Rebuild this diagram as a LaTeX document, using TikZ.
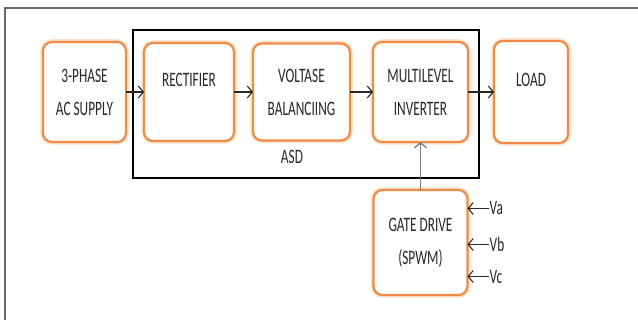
\documentclass[tikz,border=0pt]{standalone}
\usepackage{fontspec}
\usepackage{tikz}
\usetikzlibrary{arrows.meta, positioning, calc}
\newfontfamily\diagfont[FakeStretch=0.65]{Carlito}
\definecolor{myorange}{RGB}{238,140,70}
\definecolor{myglow}{RGB}{252,226,204}
\definecolor{mytext}{RGB}{40,40,40}
\definecolor{myframe}{RGB}{105,105,105}
\definecolor{mygray}{RGB}{125,125,125}
\tikzset{
  block/.style={rectangle, draw=myorange, fill=white, align=center,
    rounded corners=9pt, line width=2.2pt, text=mytext, inner sep=0pt, outer sep=0pt,
    font=\diagfont\fontsize{20.5}{33}\selectfont,
    preaction={draw=myglow, line width=5.5pt}},
  vlabel/.style={anchor=west, inner sep=1pt, text=mytext,
    font=\diagfont\fontsize{20.5}{22}\selectfont},
  arrow/.style={-{Straight Barb[length=5pt,width=12pt]}, line width=1.1pt, color=mytext},
  grayarrow/.style={-{Straight Barb[length=5pt,width=12pt]}, line width=1.3pt, color=mygray},
  asdbox/.style={draw=black, line width=2.8pt},
  frameline/.style={draw=myframe, line width=1.5pt}
}

\begin{document}
\begin{tikzpicture}[x=1pt, y=1pt]
  \useasboundingbox (0,0) rectangle (638,-320);
  \draw[frameline] (5,-320) -- (5,-8) -- (638,-8);

  \node[block, minimum width=83pt, minimum height=100pt] (supply) at (84.5,-92) {3-PHASE\\AC SUPPLY};
  \node[block, minimum width=90pt, minimum height=98pt, right=18pt of supply] (rect) {RECTIFIER\\[-9pt]\mbox{}};
  \node[block, minimum width=97pt, minimum height=97pt, right=19pt of rect] (volt) {VOLTASE\\BALANCIING};
  \node[block, minimum width=95pt, minimum height=100pt, right=23pt of volt] (multi) {MULTILEVEL\\INVERTER};
  \node[block, minimum width=74pt, minimum height=102pt, right=26pt of multi] (load) {LOAD\\[-9pt]\mbox{}};
  \node[block, minimum width=94pt, minimum height=105pt, below=48pt of multi] (gate) {GATE DRIVE\\(SPWM)};

  % ASD frame around the drive stages
  \draw[asdbox] ($(rect.north west)+(-11pt,13pt)$) rectangle ($(multi.south east)+(11pt,-36pt)$);
  \node[vlabel, anchor=center] (asd) at (292,-157) {ASD};

  \draw[arrow] (supply) -- (rect);
  \draw[arrow] (rect)   -- (volt);
  \draw[arrow] (volt)   -- (multi);
  \draw[arrow] (multi)  -- (load);
  \draw[grayarrow] (gate) -- (multi);

  % reference inputs of the gate drive
  \node[vlabel] (va) at ($(gate.east)+(21pt,34pt)$) {Va};
  \node[vlabel] (vb) at ($(gate.east)+(21pt,-2pt)$) {Vb};
  \node[vlabel] (vc) at ($(gate.east)+(21pt,-34pt)$) {Vc};
  \draw[arrow] (va.west) -- (va.west -| gate.east);
  \draw[arrow] (vb.west) -- (vb.west -| gate.east);
  \draw[arrow] (vc.west) -- (vc.west -| gate.east);
\end{tikzpicture}
\end{document}
